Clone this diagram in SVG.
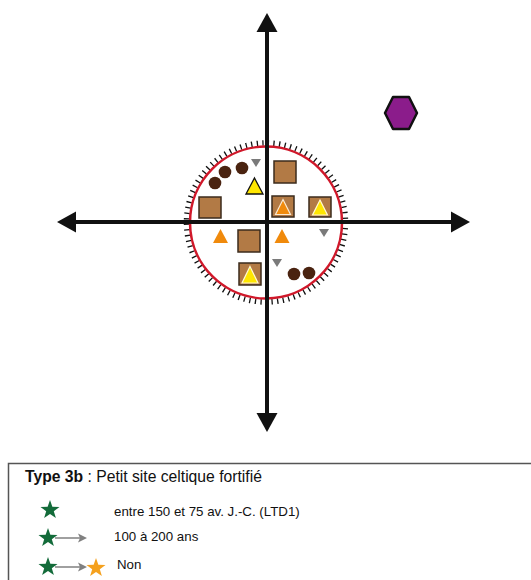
<svg xmlns="http://www.w3.org/2000/svg" width="531" height="580" viewBox="0 0 531 580">
<style>
.ax{stroke:#111;stroke-width:4;fill:none}
.ah{fill:#111}
.sq{fill:#B27A45;stroke:#3b2b1c;stroke-width:1.5}
.dot{fill:#4a2310}
.gt{fill:#7a7a7a}
.ot{fill:#F08A0C}
.tri-o{fill:#F08A0C;stroke:#fbe9d0;stroke-width:1.2}
.tri-y{fill:#FFE600;stroke:#fff8d0;stroke-width:1.2}
.tri-yb{fill:#FFE600;stroke:#111;stroke-width:1.3}
.lt{font-family:"Liberation Sans",Arial,sans-serif;fill:#111}
.gs{fill:#136B3A}
.os{fill:#F5A11E}
.ga{stroke:#808080;stroke-width:1.5;fill:none}
</style>
<defs>
<path id="star" d="M0,-10 L2.35,-3.24 L9.51,-3.09 L3.8,1.24 L5.88,8.09 L0,4 L-5.88,8.09 L-3.8,1.24 L-9.51,-3.09 L-2.35,-3.24 Z"/>
</defs>
<rect width="531" height="580" fill="#fff"/>
<g id="site">
<circle cx="266" cy="222.5" r="79.5" fill="none" stroke="#111" stroke-width="5.5" stroke-dasharray="1.3 4.31"/>
<circle cx="266" cy="222.5" r="76" fill="#fff" stroke="#D0182A" stroke-width="2.5"/>
</g>
<g id="connectors">
<line class="ax" x1="267" y1="30" x2="267" y2="415"/>
<polygon class="ah" points="267,13 256.5,32 277.5,32"/>
<polygon class="ah" points="267,432 256.5,413 277.5,413"/>
<line class="ax" x1="74" y1="222" x2="453" y2="222"/>
<polygon class="ah" points="57,222 76,211.5 76,232.5"/>
<polygon class="ah" points="470,222 451,211.5 451,232.5"/>
</g>
<g id="hexagon">
<polygon points="385,113 393,97 409,97 417,113 409,129 393,129" fill="#8B1C8B" stroke="#111" stroke-width="2.5" stroke-linejoin="round"/>
</g>
<g id="dots">
<circle class="dot" cx="215" cy="183" r="6.3"/>
<circle class="dot" cx="225" cy="172" r="6.3"/>
<circle class="dot" cx="242" cy="168" r="6.3"/>
<circle class="dot" cx="294" cy="274" r="6.3"/>
<circle class="dot" cx="309" cy="273" r="6.3"/>
</g>
<g id="gray-triangles">
<polygon class="gt" points="251,159 261,159 256,167"/>
<polygon class="gt" points="319,229 329,229 324,237"/>
<polygon class="gt" points="272,259 282,259 277,267"/>
</g>
<g id="orange-triangles">
<polygon class="ot" points="220.5,229 228,243 213,243"/>
<polygon class="ot" points="282,229 289.5,243 274.5,243"/>
</g>
<g id="yellow-triangle">
<polygon class="tri-yb" points="254.5,178 263,194 246,194"/>
</g>
<g id="squares">
<rect class="sq" x="274" y="161" width="22" height="22"/>
<rect class="sq" x="199" y="197" width="22" height="21"/>
<rect class="sq" x="238" y="230" width="22" height="22"/>
</g>
<g id="square-orange">
<rect class="sq" x="272" y="196" width="22" height="21"/>
<polygon class="tri-o" points="283,199.5 290.5,214.5 275.5,214.5"/>
</g>
<g id="square-yellow-1">
<rect class="sq" x="309" y="197" width="22" height="20"/>
<polygon class="tri-y" points="320,200 327.5,215 312.5,215"/>
</g>
<g id="square-yellow-2">
<rect class="sq" x="239" y="263" width="22" height="22"/>
<polygon class="tri-y" points="250,266.5 258,283 242,283"/>
</g>
<g id="legend">
<rect x="8.5" y="463.5" width="540" height="130" fill="#fff" stroke="#555" stroke-width="1.5"/>
<text class="lt" x="25" y="482" font-size="15.7"><tspan font-weight="bold">Type 3b</tspan> : Petit site celtique fortifié</text>
<use href="#star" class="gs" x="50" y="510"/>
<text class="lt" x="114" y="516" font-size="13.3">entre 150 et 75 av. J.-C. (LTD1)</text>
<line class="ga" x1="55" y1="538" x2="83" y2="538"/>
<polygon points="87,538 78,533.5 80,538 78,542.5" fill="#808080"/>
<use href="#star" class="gs" x="48" y="538"/>
<text class="lt" x="114" y="541" font-size="13.3">100 à 200 ans</text>
<line class="ga" x1="55" y1="567" x2="83" y2="567"/>
<polygon points="87,567 78,562.5 80,567 78,571.5" fill="#808080"/>
<use href="#star" class="gs" x="48" y="567"/>
<use href="#star" class="os" x="96" y="568"/>
<text class="lt" x="117" y="569" font-size="13.3">Non</text>
</g>
</svg>
